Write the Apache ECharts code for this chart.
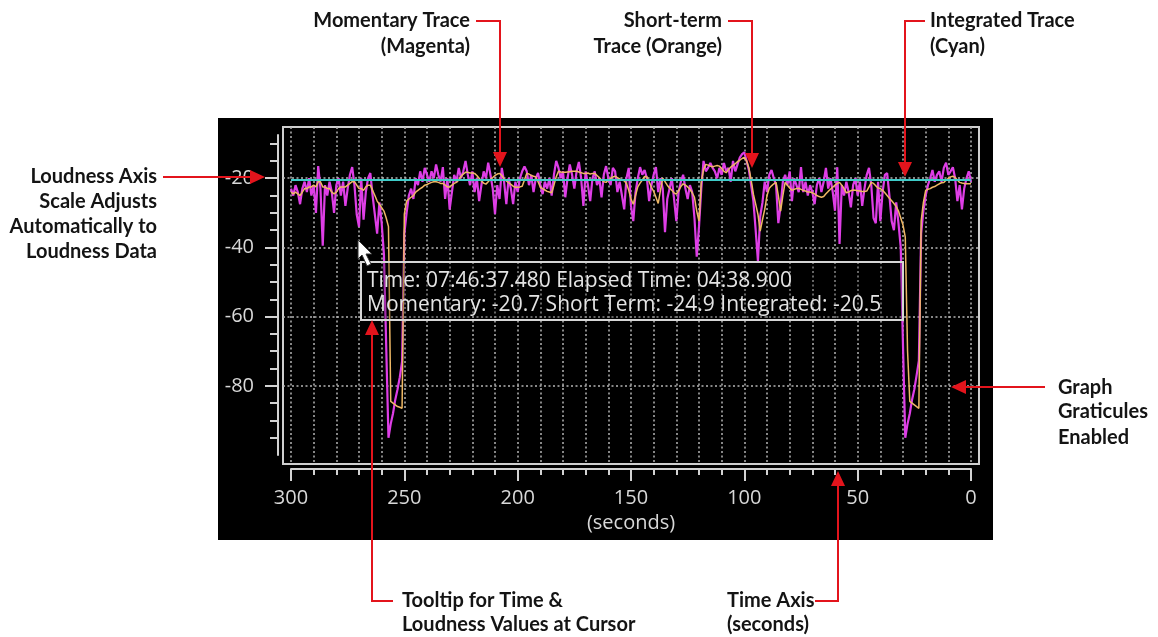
<!DOCTYPE html>
<html><head><meta charset="utf-8">
<script src="https://cdn.jsdelivr.net/npm/echarts@6/dist/echarts.min.js"></script>
<style>html,body{margin:0;padding:0;background:#fff}#c{width:1158px;height:637px}</style>
</head><body><div id="c"></div>
<script>
// ---- data (time runs 300 s -> 0 s, one sample per second) ----
const timeStartSec = 300;
const timeStepSec = 1;
const momentary = [
 -23,-25,-22,-24,-27.5,-23,-21,-24,-20,-25,
 -22,-30,-16.5,-23,-39.5,-22,-25,-21,-24,-30,
 -22,-20,-25,-21,-28,-23,-19,-16.8,-22,-30.5,
 -34,-20,-32,-24,-20,-18.5,-25,-30.5,-36,-27,
 -33,-42,-68.5,-95,-91,-88,-84,-81,-77.5,-73,
 -36,-30,-25,-23,-26,-20,-22,-18,-21,-17,
 -19,-21,-18,-20,-16,-19,-21,-16.8,-26,-20,
 -29,-24,-19,-21,-17,-20,-18,-15,-19,-22,
 -18,-24,-20,-26.6,-22,-18,-20,-15.5,-19,-23,
 -30.4,-22,-26,-17,-21,-27.5,-20,-23,-27.5,-21,
 -24,-20,-18,-16.6,-18,-22,-19,-24,-20,-18.5,
 -22,-24.6,-21,-23,-20,-25,-19,-15,-17,-20,
 -18,-25.5,-20,-16,-19,-23,-18,-15.3,-20,-28,
 -18,-22,-26.6,-20,-18,-22,-20,-25.5,-19,-16.5,
 -20,-22,-17,-18,-24,-21,-25,-29,-20,-17,
 -28,-32.4,-24,-20,-16.8,-19,-17.6,-20,-26.6,-22,
 -19,-16.8,-24,-20,-23,-35.6,-26,-23,-20,-26,
 -32.4,-24,-21,-19,-23,-26,-22,-24,-31.5,-42.7,
 -34,-23,-15,-18,-17,-15.6,-17,-18,-20,-17,
 -19,-15.6,-18,-17,-21,-15,-18,-16,-14,-13,
 -12.5,-15,-17.6,-22,-26.6,-35,-44,-31,-27,-21,
 -24,-19,-17.6,-20,-22,-33,-28,-21,-19,-22,
 -18,-26.6,-20,-22,-24,-16.8,-24,-21,-25,-22,
 -24,-27.5,-22,-20,-24,-21,-17,-23,-20,-24,
 -29.4,-16.8,-39,-22,-25,-21,-24,-28.4,-22,-20,
 -25,-21,-28,-23,-19,-17,-22,-31.5,-33,-21,
 -32.4,-24,-19,-18.5,-25,-32.4,-35,-27,-33,-40,
 -68.5,-95,-91,-88,-84,-81,-77,-72.7,-36,-29.4,
 -25,-22,-20,-17.6,-21,-19,-18,-21,-17,-15.5,
 -19,-18,-16.8,-20,-26.6,-22,-29,-23,-20,-18,
 -21
];
const shortTerm = [
 -24,-24.5,-24,-24.5,-25,-24,-23,-23,-22.5,-22.5,
 -22,-22.5,-21,-21,-22.5,-22.5,-23,-23,-24,-24.5,
 -24,-23,-22.5,-22.5,-22.5,-22,-21.5,-21,-21,-22,
 -23,-23,-23.5,-22.5,-22,-22,-23.5,-25,-26.6,-27.5,
 -28.5,-29.5,-31.5,-34,-84.5,-85,-85.5,-86,-86.2,-86.5,
 -30.4,-26.6,-26,-25.5,-25,-24,-23.5,-23,-22.6,-22,
 -21.8,-21.5,-21.2,-21,-21,-21.2,-21.5,-21.5,-22,-22.5,
 -22.5,-22,-21.5,-21.2,-20.5,-19.5,-18.8,-18.3,-18.3,-18.5,
 -18.5,-18.6,-19.2,-20,-20.8,-21.4,-21.7,-21,-20.3,-19.8,
 -19.2,-18.8,-18.6,-19.2,-20.2,-20.8,-21.3,-21.8,-22.3,-22.6,
 -22.6,-22.5,-22.3,-20.5,-18.6,-18.8,-19.2,-19.4,-19.6,-21,
 -22.6,-23,-23.4,-23.8,-24,-24.2,-22,-19.6,-18,-18.2,
 -18.3,-18.3,-18.2,-18.1,-18,-18,-18,-18.2,-18.4,-18.6,
 -18.6,-18.5,-18.8,-18.6,-18.6,-19.2,-19.8,-20.5,-21,-21.2,
 -20.5,-20,-19.6,-19.4,-19.8,-20.2,-20.5,-20.7,-21.5,-23.5,
 -26,-27.5,-25,-22.5,-21.4,-20.5,-19.5,-19.6,-21,-22.6,
 -23.8,-25.5,-27.3,-23.5,-20,-21,-22,-22.8,-23.5,-24.2,
 -24.6,-23.6,-22.4,-21.6,-22,-22.5,-23.2,-24.2,-25.5,-29.5,
 -32.4,-21.2,-17.5,-16,-16.2,-16.5,-16.7,-16.5,-16.3,-16.5,
 -17.2,-18,-18.4,-17.5,-16.8,-16.3,-15.8,-15.2,-14.8,-14.3,
 -14,-15,-17,-20.5,-24.6,-27.5,-30.4,-35.3,-32,-29,
 -25,-22.9,-22.2,-21.6,-21.2,-25,-29.5,-25,-21.2,-22,
 -22.8,-23.5,-23.2,-23,-22.9,-23.2,-23.5,-23.7,-24,-24,
 -24.2,-24.5,-25,-25.3,-25.5,-25.3,-24.5,-23.8,-23.2,-22.6,
 -22,-21.5,-21.2,-22,-23,-24.2,-24,-23.6,-23.4,-23.5,
 -23.6,-23.7,-23.8,-23.8,-23.7,-22.5,-21.2,-21.5,-22.2,-22.8,
 -23,-23.5,-24.2,-25,-25.8,-26.5,-27.3,-28.2,-29.5,-31.5,
 -33.5,-37,-69.8,-84.5,-85,-85.5,-86,-86.5,-32.4,-27,
 -23.5,-23.2,-23,-22.6,-22.4,-22,-21.6,-21.3,-21.2,-20.6,
 -20,-19.6,-19.4,-19.8,-20.5,-21.2,-21.4,-21.5,-21.6,-21.6,
 -21.6
];
const integratedTimes = [300, 0];
const integrated = [-20.5, -20.5];
const timeGridLines = [0,10,20,30,40,50,60,70,80,90,100,110,120,130,140,150,160,170,180,190,200,210,220,230,240,250,260,270,280,290,300];
const loudGridLines = [-80,-60,-40,-20];
const loudMajorTicks = [-80,-60,-40,-20];
const loudMinorTicks = [-95,-90,-85,-75,-70,-65,-55,-50,-45,-35,-30,-25,-15,-10];
const tooltipLines = ['Time: 07:46:37.480 Elapsed Time: 04:38.900','Momentary: -20.7 Short Term: -24.9 Integrated: -20.5'];

// ---- build ----
const times = momentary.map((_, i) => timeStartSec - i * timeStepSec);
const toPairs = (ts, vs) => vs.map((v, i) => [ts[i], v]);

const axisGrey = '#d2d2d2';
const labelGrey = '#d8d8d8';
const red = '#e3141c';
const annFont = 'bold 20px Lato';

function arrow(points, tip, dir) {
  const L = 15, W = 7;
  let poly;
  if (dir === 'down') poly = [[tip[0]-W, tip[1]-L],[tip[0]+W, tip[1]-L],tip];
  if (dir === 'up') poly = [[tip[0]-W, tip[1]+L],[tip[0]+W, tip[1]+L],tip];
  if (dir === 'right') poly = [[tip[0]-L, tip[1]-W],[tip[0]-L, tip[1]+W],tip];
  if (dir === 'left') poly = [[tip[0]+L, tip[1]-W],[tip[0]+L, tip[1]+W],tip];
  return [
    {type:'polyline', z:100, shape:{points}, style:{stroke:red, lineWidth:2, fill:null}},
    {type:'polygon', z:100, shape:{points:poly}, style:{fill:red}}
  ];
}
function txt(text, x, y, align) {
  return {type:'text', z:100, style:{text, x, y, font:annFont, fill:'#141414', align, verticalAlign:'middle'}};
}

const graphics = [].concat(
  arrow([[476,21],[500,21],[500,152]], [500,167], 'down'),
  arrow([[728,21],[752,21],[752,153]], [752,168], 'down'),
  arrow([[925,21],[905,21],[905,162]], [905,177], 'down'),
  arrow([[163,177],[250,177]], [265,177], 'right'),
  arrow([[393,601],[372,601],[372,335]], [372,320], 'up'),
  arrow([[815,601],[838,601],[838,486]], [838,471], 'up'),
  arrow([[1045,387],[966,387]], [951,387], 'left'),
  [
    txt('Momentary Trace', 470, 21, 'right'), txt('(Magenta)', 470, 47, 'right'),
    txt('Short-term', 722, 21, 'right'), txt('Trace (Orange)', 722, 47, 'right'),
    txt('Integrated Trace', 930, 21, 'left'), txt('(Cyan)', 930, 47, 'left'),
    txt('Loudness Axis', 157, 177, 'right'), txt('Scale Adjusts', 157, 202, 'right'),
    txt('Automatically to', 157, 227, 'right'), txt('Loudness Data', 157, 252, 'right'),
    txt('Tooltip for Time &', 402, 601, 'left'), txt('Loudness Values at Cursor', 402, 625, 'left'),
    txt('Time Axis', 727, 601, 'left'), txt('(seconds)', 727, 625, 'left'),
    txt('Graph', 1058, 388, 'left'), txt('Graticules', 1058, 412, 'left'), txt('Enabled', 1058, 438, 'left'),
    {type:'rect', z:90, shape:{x:361, y:262, width:542, height:58}, style:{fill:'rgba(0,0,0,0.25)', stroke:'#d6d6d6', lineWidth:2}},
    {type:'text', z:91, style:{text:tooltipLines[0], x:367, y:281, font:'21px "Open Sans"', fill:'#e4e4e4', verticalAlign:'middle'}},
    {type:'text', z:91, style:{text:tooltipLines[1], x:367, y:305, font:'21px "Open Sans"', fill:'#e4e4e4', verticalAlign:'middle'}},
    {type:'polygon', z:95, shape:{points:[[358,240],[358,259],[362,255],[367,266],[371,264],[366,254],[372,254]]}, style:{fill:'#ffffff', stroke:'#333', lineWidth:1}}
  ]
);

const chart = echarts.init(document.getElementById('c'), null, {renderer:'canvas', width:1158, height:637});
chart.setOption({
  backgroundColor:'#ffffff',
  animation:false,
  grid:[
    {left:218, top:118, width:775, height:422, show:true, backgroundColor:'#000000', borderWidth:0},
    {left:283, top:127, width:696, height:337, show:true, backgroundColor:'transparent', borderColor:'#cfcfcf', borderWidth:2},
    {left:291, top:135, width:680, height:320, show:false}
  ],
  xAxis:[
    {gridIndex:0, type:'value', show:false, min:0, max:1},
    {gridIndex:1, type:'value', min:-3.5, max:303.5, inverse:true,
      axisLine:{show:false, onZero:false}, axisLabel:{show:false},
      axisTick:{show:false, customValues:timeGridLines},
      splitLine:{show:true, lineStyle:{color:'#b4b4b4', width:1.5, type:[2,2.5]}}},
    {gridIndex:2, type:'value', min:0, max:300, interval:50, inverse:true, position:'bottom', offset:14,
      axisLine:{show:true, onZero:false, lineStyle:{color:axisGrey, width:2}},
      axisTick:{show:true, length:12, lineStyle:{color:axisGrey, width:2}},
      minorTick:{show:true, splitNumber:5, length:6, lineStyle:{color:axisGrey, width:2}},
      splitLine:{show:false}, minorSplitLine:{show:false},
      axisLabel:{color:labelGrey, fontSize:20, fontFamily:'Open Sans', margin:19},
      name:'(seconds)', nameLocation:'middle', nameGap:43,
      nameTextStyle:{color:labelGrey, fontSize:20, fontFamily:'Open Sans'}}
  ],
  yAxis:[
    {gridIndex:0, type:'value', show:false, min:0, max:1},
    {gridIndex:1, type:'value', min:-102.6, max:-5.2,
      axisLine:{show:false, onZero:false}, axisLabel:{show:false},
      axisTick:{show:false, customValues:loudGridLines},
      splitLine:{show:true, lineStyle:{color:'#b4b4b4', width:1.5, type:[2,2.5]}}},
    {gridIndex:2, type:'value', min:-100, max:-7.5, position:'left', offset:13,
      axisLine:{show:true, onZero:false, lineStyle:{color:axisGrey, width:2}},
      axisTick:{show:true, length:13, customValues:loudMajorTicks, lineStyle:{color:axisGrey, width:2}},
      axisLabel:{customValues:loudMajorTicks, color:labelGrey, fontSize:20, fontFamily:'Open Sans', margin:24},
      splitLine:{show:false}},
    {gridIndex:2, type:'value', min:-100, max:-7.5, position:'left', offset:13,
      axisLine:{show:false, onZero:false},
      axisTick:{show:true, length:8, customValues:loudMinorTicks, lineStyle:{color:axisGrey, width:2}},
      axisLabel:{show:false}, splitLine:{show:false}}
  ],
  series:[
    {name:'Momentary', type:'line', xAxisIndex:2, yAxisIndex:2, data:toPairs(times, momentary),
      showSymbol:false, lineStyle:{color:'#de3ee6', width:2.2}, z:3},
    {name:'Short Term', type:'line', xAxisIndex:2, yAxisIndex:2, data:toPairs(times, shortTerm),
      showSymbol:false, lineStyle:{color:'#efb865', width:1.5}, z:4},
    {name:'Integrated', type:'line', xAxisIndex:2, yAxisIndex:2, data:toPairs(integratedTimes, integrated),
      showSymbol:false, lineStyle:{color:'#3ecbc8', width:2}, z:5}
  ],
  graphic:{elements:graphics}
});
</script>
</body></html>
